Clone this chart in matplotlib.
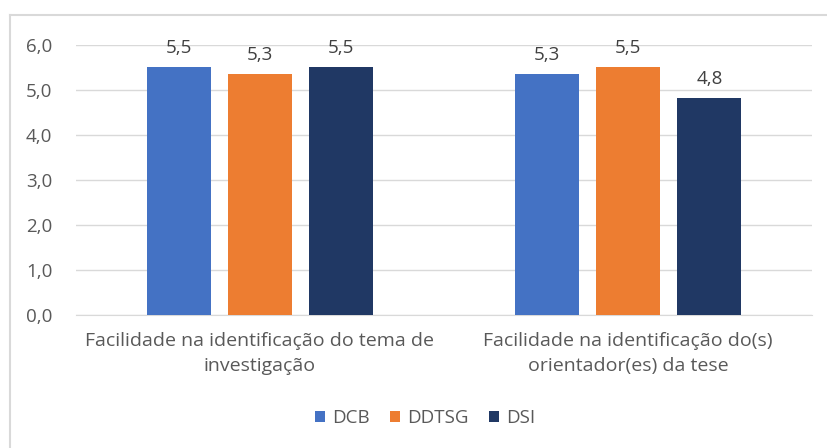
import matplotlib
matplotlib.use("Agg")
import matplotlib.pyplot as plt
import numpy as np

categories = ["Facilidade na identificação do tema de\ninvestigação",
              "Facilidade na identificação do(s)\norientador(es) da tese"]
series = ["DCB", "DDTSG", "DSI"]
values = {
    "DCB": [5.5, 5.3],
    "DDTSG": [5.3, 5.5],
    "DSI": [5.5, 4.8],
}
heights = {
    "DCB": [5.51, 5.36],
    "DDTSG": [5.36, 5.51],
    "DSI": [5.51, 4.82],
}
colors = {"DCB": "#4472C4", "DDTSG": "#ED7D31", "DSI": "#203864"}
yticks = [0, 1, 2, 3, 4, 5, 6]

plt.rcParams['font.family'] = ['Open Sans', 'DejaVu Sans']
txt = "#595959"

fig = plt.figure(figsize=(8.28, 4.48), dpi=100)
ax = fig.add_axes([76/828, 1-315/448, 736/828, 270/448])

x = np.arange(len(categories))
width = 0.174
offsets = [-0.221, 0, 0.221]
for s, off in zip(series, offsets):
    ax.bar(x + off, heights[s], width, color=colors[s], label=s, zorder=3)
    for xi, h, v in zip(x + off, heights[s], values[s]):
        ax.text(xi, h + 0.22, f"{v:.1f}".replace(".", ","), ha="center", va="bottom",
                fontsize=13.5, color="#404040")

ax.set_xlim(-0.5, 1.5)
ax.set_ylim(0, 6)
ax.set_yticks(yticks)
ax.set_yticklabels([f"{t:.1f}".replace(".", ",") for t in yticks], fontsize=13.5, color=txt)
ax.set_xticks(x)
ax.set_xticklabels(categories, fontsize=14, color=txt, linespacing=1.5)
ax.tick_params(axis="both", length=0)
ax.tick_params(axis="y", pad=17)
ax.tick_params(axis="x", pad=12)
ax.grid(axis="y", color="#d9d9d9", linewidth=1, zorder=0)
for sp in ["top", "right", "left"]:
    ax.spines[sp].set_visible(False)
ax.spines["bottom"].set_color("#d9d9d9")

leg = fig.legend(loc="center", bbox_to_anchor=(425/828, 1-418/448), ncol=3, frameon=False,
                 fontsize=13.5, handlelength=0.55, handleheight=0.55, handletextpad=0.35,
                 columnspacing=1.1)
for t in leg.get_texts():
    t.set_color(txt)

# outer chart frame
fig.add_artist(plt.Line2D([10/828, 10/828], [0, 1-15/448], transform=fig.transFigure,
                          color="#d9d9d9", linewidth=1.5))
fig.add_artist(plt.Line2D([10/828, 1], [1-15/448, 1-15/448], transform=fig.transFigure,
                          color="#d9d9d9", linewidth=1.5))

fig.savefig("out.png", dpi=100)
